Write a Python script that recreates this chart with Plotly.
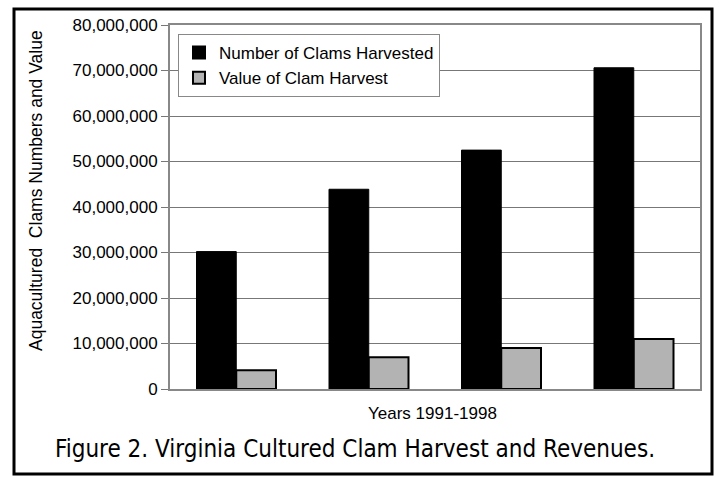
import plotly.graph_objects as go

categories = ["1991", "1993", "1995", "1998"]
clams_harvested = [30200000, 43900000, 52500000, 70600000]
harvest_value = [4100000, 7000000, 9000000, 11000000]
y_ticks = [0, 10000000, 20000000, 30000000, 40000000, 50000000, 60000000, 70000000, 80000000]
y_tick_labels = ["0", "10,000,000", "20,000,000", "30,000,000", "40,000,000",
                 "50,000,000", "60,000,000", "70,000,000", "80,000,000"]

fig = go.Figure()
fig.add_trace(go.Bar(x=categories, y=clams_harvested, name="Number of Clams Harvested",
                     marker=dict(color="#000000", line=dict(color="#000000", width=1))))
fig.add_trace(go.Bar(x=categories, y=harvest_value, name="Value of Clam Harvest",
                     marker=dict(color="#b3b3b3", line=dict(color="#000000", width=2))))

L, R, T, B = 170, 21, 25, 88
W, H = 721, 477
pw, ph = W - L - R, H - T - B

def px(x):
    return (x - L) / pw

def py(y):
    return (H - B - y) / ph

fig.update_layout(
    width=W, height=H,
    margin=dict(l=L, r=R, t=T, b=B),
    paper_bgcolor="white", plot_bgcolor="white",
    barmode="group", bargap=0.4, bargroupgap=0,
    font=dict(family="Liberation Sans, Arial, sans-serif", size=17, color="black"),
    showlegend=True,
    legend=dict(x=px(178), y=py(34), xanchor="left", yanchor="top",
                bgcolor="white", bordercolor="#888888", borderwidth=1,
                font=dict(size=17), itemsizing="constant", itemwidth=30, tracegroupgap=0),
    xaxis=dict(showticklabels=False, showgrid=False, showline=True, linecolor="#888888",
               linewidth=2, mirror=True, ticks=""),
    yaxis=dict(range=[0, 80000000], tickvals=y_ticks, ticktext=y_tick_labels,
               showgrid=True, gridcolor="#777777", gridwidth=1,
               showline=True, linecolor="#888888", linewidth=2, mirror=True,
               ticks="outside", ticklen=7, tickcolor="#777777",
               tickfont=dict(size=17), zeroline=False),
    annotations=[
        dict(text="Aquacultured  Clams Numbers and Value", x=px(36), y=py(191),
             xref="paper", yref="paper", textangle=-90, showarrow=False,
             font=dict(size=17.5), xanchor="center", yanchor="middle"),
        dict(text="Years 1991-1998", x=px(432), y=py(413), xref="paper", yref="paper",
             showarrow=False, font=dict(size=17), xanchor="center", yanchor="middle"),
        dict(text="Figure 2. Virginia Cultured Clam Harvest and Revenues.",
             x=px(355), y=py(449), xref="paper", yref="paper", showarrow=False,
             font=dict(family="Liberation Sans Narrow, DejaVu Sans Condensed, sans-serif", size=24),
             xanchor="center", yanchor="middle"),
    ],
    shapes=[
        dict(type="rect", xref="paper", yref="paper",
             x0=px(14), x1=px(712), y0=py(474), y1=py(9),
             line=dict(color="black", width=3), fillcolor="rgba(0,0,0,0)", layer="above"),
    ],
)

fig.write_html("out.html", config={"displayModeBar": False},
               post_script="document.body.style.margin='0';document.body.style.padding='0';")
